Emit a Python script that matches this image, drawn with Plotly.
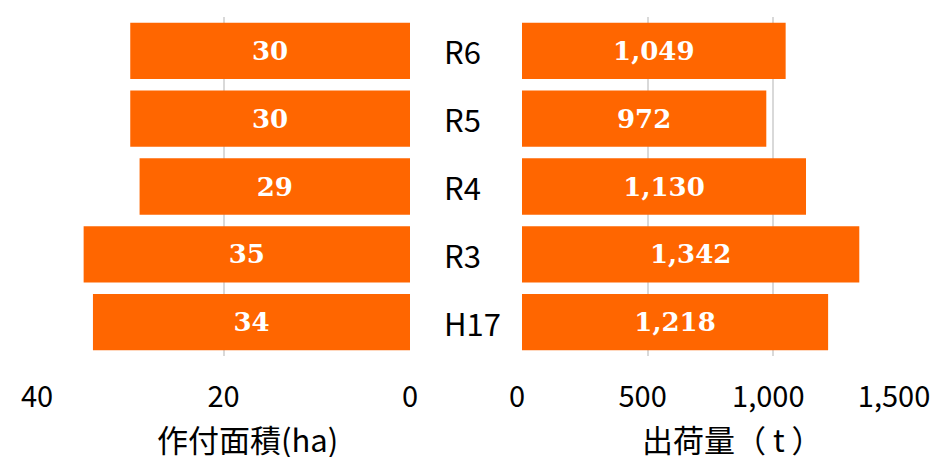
import plotly.graph_objects as go
from plotly.subplots import make_subplots

years = ["R6", "R5", "R4", "R3", "H17"]
area_ha = [30, 30, 29, 35, 34]
shipment_t = [1049, 972, 1130, 1342, 1218]
area_ticks = [0, 20, 40]
ship_ticks = [0, 500, 1000, 1500]

OFF = 8  # page body margin
W, H = 938 - 2 * OFF, 465 - 2 * OFF
ORANGE = "#FF6600"
GRID = "#D9D9D9"
JP = "Noto Sans CJK JP"
SERIF = "DejaVu Serif"
LABEL_FONT = dict(color="white", size=26, family=SERIF, weight="bold")
JP_FONT = dict(family=JP, size=31, color="#000000")


def px(x):
    return (x - OFF) / W


def py(y):
    return (H - (y - OFF)) / H


fig = make_subplots(rows=1, cols=2)

fig.add_trace(go.Bar(
    y=years, x=area_ha, orientation="h",
    marker=dict(color=ORANGE, line=dict(width=0)),
    text=[f"{v:,}" for v in area_ha], textposition="inside",
    insidetextanchor="middle", textfont=LABEL_FONT,
    showlegend=False,
), row=1, col=1)

fig.add_trace(go.Bar(
    y=years, x=shipment_t, orientation="h",
    marker=dict(color=ORANGE, line=dict(width=0)),
    text=[f"{v:,}" for v in shipment_t], textposition="inside",
    insidetextanchor="middle", textfont=LABEL_FONT,
    showlegend=False,
), row=1, col=2)

axis_common = dict(
    showgrid=True, gridcolor=GRID, gridwidth=2,
    zeroline=False, showline=False, ticks="", automargin=False,
    tickfont=dict(family=JP, size=29, color="#000000"),
    ticklabelstandoff=21, ticklabeloverflow="allow",
)
fig.update_layout(
    width=W, height=H,
    margin=dict(l=0, r=0, t=0, b=0),
    paper_bgcolor="white", plot_bgcolor="white",
    bargap=0.17,
    uniformtext=dict(minsize=10, mode="show"),
    xaxis=dict(domain=[px(37), px(410)], range=[40, 0], tickvals=area_ticks,
               ticktext=[f"{v:,}" for v in area_ticks], **axis_common),
    xaxis2=dict(domain=[px(522), px(899)], range=[0, 1500], tickvals=ship_ticks,
                ticktext=[f"{v:,}" for v in ship_ticks], ticklabelshift=-5,
                **axis_common),
    yaxis=dict(domain=[py(356), py(17)], autorange="reversed", showticklabels=False,
               showgrid=False, zeroline=False, automargin=False),
    yaxis2=dict(domain=[py(356), py(17)], autorange="reversed", showticklabels=False,
                showgrid=False, zeroline=False, automargin=False),
)

# category labels in the middle
for yr in years:
    fig.add_annotation(x=px(442), xref="paper", y=yr, yref="y2", text=yr,
                       showarrow=False, xanchor="left", yanchor="middle",
                       font=JP_FONT)

fig.add_annotation(x=px(247), y=py(438), xref="paper", yref="paper",
                   text="作付面積(ha)", showarrow=False,
                   xanchor="center", yanchor="middle", font=JP_FONT)
fig.add_annotation(x=px(732), y=py(438), xref="paper", yref="paper",
                   text="出荷量（ t ）", showarrow=False,
                   xanchor="center", yanchor="middle", font=JP_FONT)

fig.write_html("out.html")
